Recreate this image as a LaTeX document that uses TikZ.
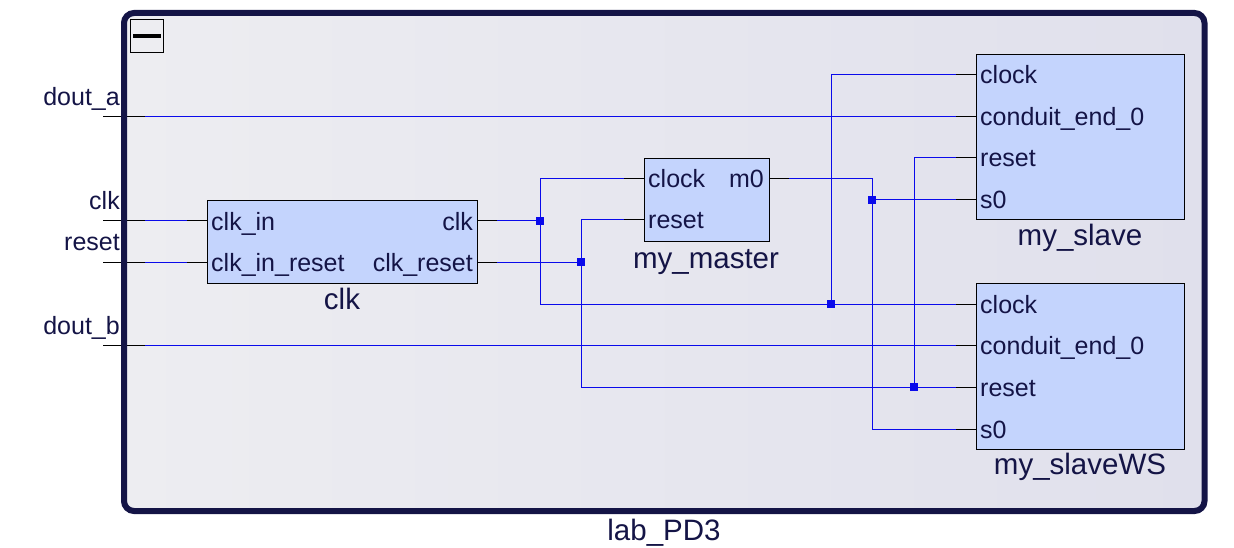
\documentclass[tikz,border=0pt]{standalone}
\usepackage{fontspec}
\setmainfont{Liberation Sans}
\usetikzlibrary{calc}

\definecolor{quadro}{RGB}{20,20,70}
\definecolor{fundoA}{RGB}{237,237,241}
\definecolor{fundoB}{RGB}{224,224,236}
\definecolor{azulbloco}{RGB}{196,212,253}
\definecolor{azulfio}{RGB}{10,10,235}

\tikzset{
  bloco/.style={draw=black, fill=azulbloco, line width=0.9pt, inner sep=0pt, anchor=north west},
  porta/.style={font=\fontsize{25}{29}\selectfont, text=quadro, inner sep=0pt},
  titulo/.style={font=\fontsize{29.5}{33}\selectfont, text=quadro, inner sep=0pt, anchor=base},
  fio/.style={draw=azulfio, line width=1pt},
  ponta/.style={draw=black, line width=1pt},
  juncao/.style={fill=azulfio, minimum size=7.5pt, inner sep=0pt}
}

\begin{document}
\begin{tikzpicture}[x=1pt, y=-1pt]
    \useasboundingbox (0,0) rectangle (1234,548);

    % Fundo do sistema
    \shade[left color=fundoA, right color=fundoB, rounded corners=10pt] (124,13) rectangle (1204.5,511);

    % Blocos
    \node[bloco, minimum width=270pt, minimum height=83pt] (clk) at (207,200) {};
    \node[bloco, minimum width=125pt, minimum height=83pt] (master) at (644,158) {};
    \node[bloco, minimum width=208pt, minimum height=165pt] (slave) at (976,54) {};
    \node[bloco, minimum width=208pt, minimum height=166pt] (slaveWS) at (976,283) {};

    % Portas
    \coordinate (pin-douta) at (103,117);
    \coordinate (pin-clk) at (103,221);
    \coordinate (pin-reset) at (103,262);
    \coordinate (pin-doutb) at (103,345);
    \coordinate (clk-in) at (207,221);
    \coordinate (clk-inreset) at (207,262);
    \coordinate (clk-clk) at (477,221);
    \coordinate (clk-reset) at (477,262);
    \coordinate (mm-clock) at (644,179);
    \coordinate (mm-reset) at (644,220);
    \coordinate (mm-m0) at (769,179);
    \coordinate (sl-clock) at (976,75);
    \coordinate (sl-conduit) at (976,117);
    \coordinate (sl-reset) at (976,158);
    \coordinate (sl-s0) at (976,200);
    \coordinate (ws-clock) at (976,304);
    \coordinate (ws-conduit) at (976,345);
    \coordinate (ws-reset) at (976,387);
    \coordinate (ws-s0) at (976,429);

    % Juncoes
    \coordinate (j1) at (540,221);
    \coordinate (j2) at (581,262);
    \coordinate (j3) at (831,304);
    \coordinate (j4) at (872,200);
    \coordinate (j5) at (914,387);

    % Fios
    \draw[fio] (pin-douta) -- (sl-conduit);
    \draw[fio] (pin-doutb) -- (ws-conduit);
    \draw[fio] (pin-clk) -- (clk-in);
    \draw[fio] (pin-reset) -- (clk-inreset);
    \draw[fio] (clk-clk) -- (j1);
    \draw[fio] (j1) |- (mm-clock);
    \draw[fio] (j1) |- (ws-clock);
    \draw[fio] (j3) |- (sl-clock);
    \draw[fio] (clk-reset) -- (j2);
    \draw[fio] (j2) |- (mm-reset);
    \draw[fio] (j2) |- (ws-reset);
    \draw[fio] (j5) |- (sl-reset);
    \draw[fio] (mm-m0) -| (j4);
    \draw[fio] (j4) -- (sl-s0);
    \draw[fio] (j4) |- (ws-s0);

    % Pontas pretas
    \foreach \p in {pin-douta, pin-clk, pin-reset, pin-doutb}
        \draw[ponta] (\p) -- ++(42,0);
    \foreach \p in {clk-in, clk-inreset, mm-clock, mm-reset, sl-clock, sl-conduit, sl-reset, sl-s0, ws-clock, ws-conduit, ws-reset, ws-s0}
        \draw[ponta] (\p) -- ++(-20,0);
    \foreach \p in {clk-clk, clk-reset, mm-m0}
        \draw[ponta] (\p) -- ++(20,0);

    % Pontos de juncao
    \foreach \j in {j1, j2, j3, j4, j5}
        \node[juncao] (q-\j) at (\j) {};

    % Moldura
    \draw[quadro, line width=6pt, rounded corners=10pt] (124,13) rectangle (1204.5,511);
    \draw[black, line width=0.9pt] (130,19) rectangle (163,52);
    \fill[black] (133,34) rectangle (161,38);

    % Nomes dos pinos
    \node[porta, anchor=base east] (t-douta) at (120,106) {dout\_a};
    \node[porta, anchor=base east] (t-clk) at (120,210) {clk};
    \node[porta, anchor=base east] (t-reset) at (120,251) {reset};
    \node[porta, anchor=base east] (t-doutb) at (120,334) {dout\_b};

    % Nomes das portas
    \node[porta, anchor=base west] (t-clkin) at (211,230) {clk\_in};
    \node[porta, anchor=base west] (t-clkinreset) at (211,271) {clk\_in\_reset};
    \node[porta, anchor=base east] (t-clkclk) at (473,230) {clk};
    \node[porta, anchor=base east] (t-clkreset) at (473,271) {clk\_reset};
    \node[porta, anchor=base west] (t-mmclock) at (648,188) {clock};
    \node[porta, anchor=base west] (t-mmreset) at (648,229) {reset};
    \node[porta, anchor=base east] (t-mmm0) at (764,188) {m0};
    \node[porta, anchor=base west] (t-slclock) at (980,84) {clock};
    \node[porta, anchor=base west] (t-slconduit) at (980,126) {conduit\_end\_0};
    \node[porta, anchor=base west] (t-slreset) at (980,167) {reset};
    \node[porta, anchor=base west] (t-sls0) at (980,209) {s0};
    \node[porta, anchor=base west] (t-wsclock) at (980,313) {clock};
    \node[porta, anchor=base west] (t-wsconduit) at (980,354) {conduit\_end\_0};
    \node[porta, anchor=base west] (t-wsreset) at (980,396) {reset};
    \node[porta, anchor=base west] (t-wss0) at (980,438) {s0};

    % Titulos
    \node[titulo] (n-clk) at (342,309) {clk};
    \node[titulo] (n-master) at (706,268) {my\_master};
    \node[titulo] (n-slave) at (1080,245) {my\_slave};
    \node[titulo] (n-slaveWS) at (1080,474) {my\_slaveWS};
    \node[titulo] (n-sistema) at (664,540) {lab\_PD3};
\end{tikzpicture}
\end{document}
